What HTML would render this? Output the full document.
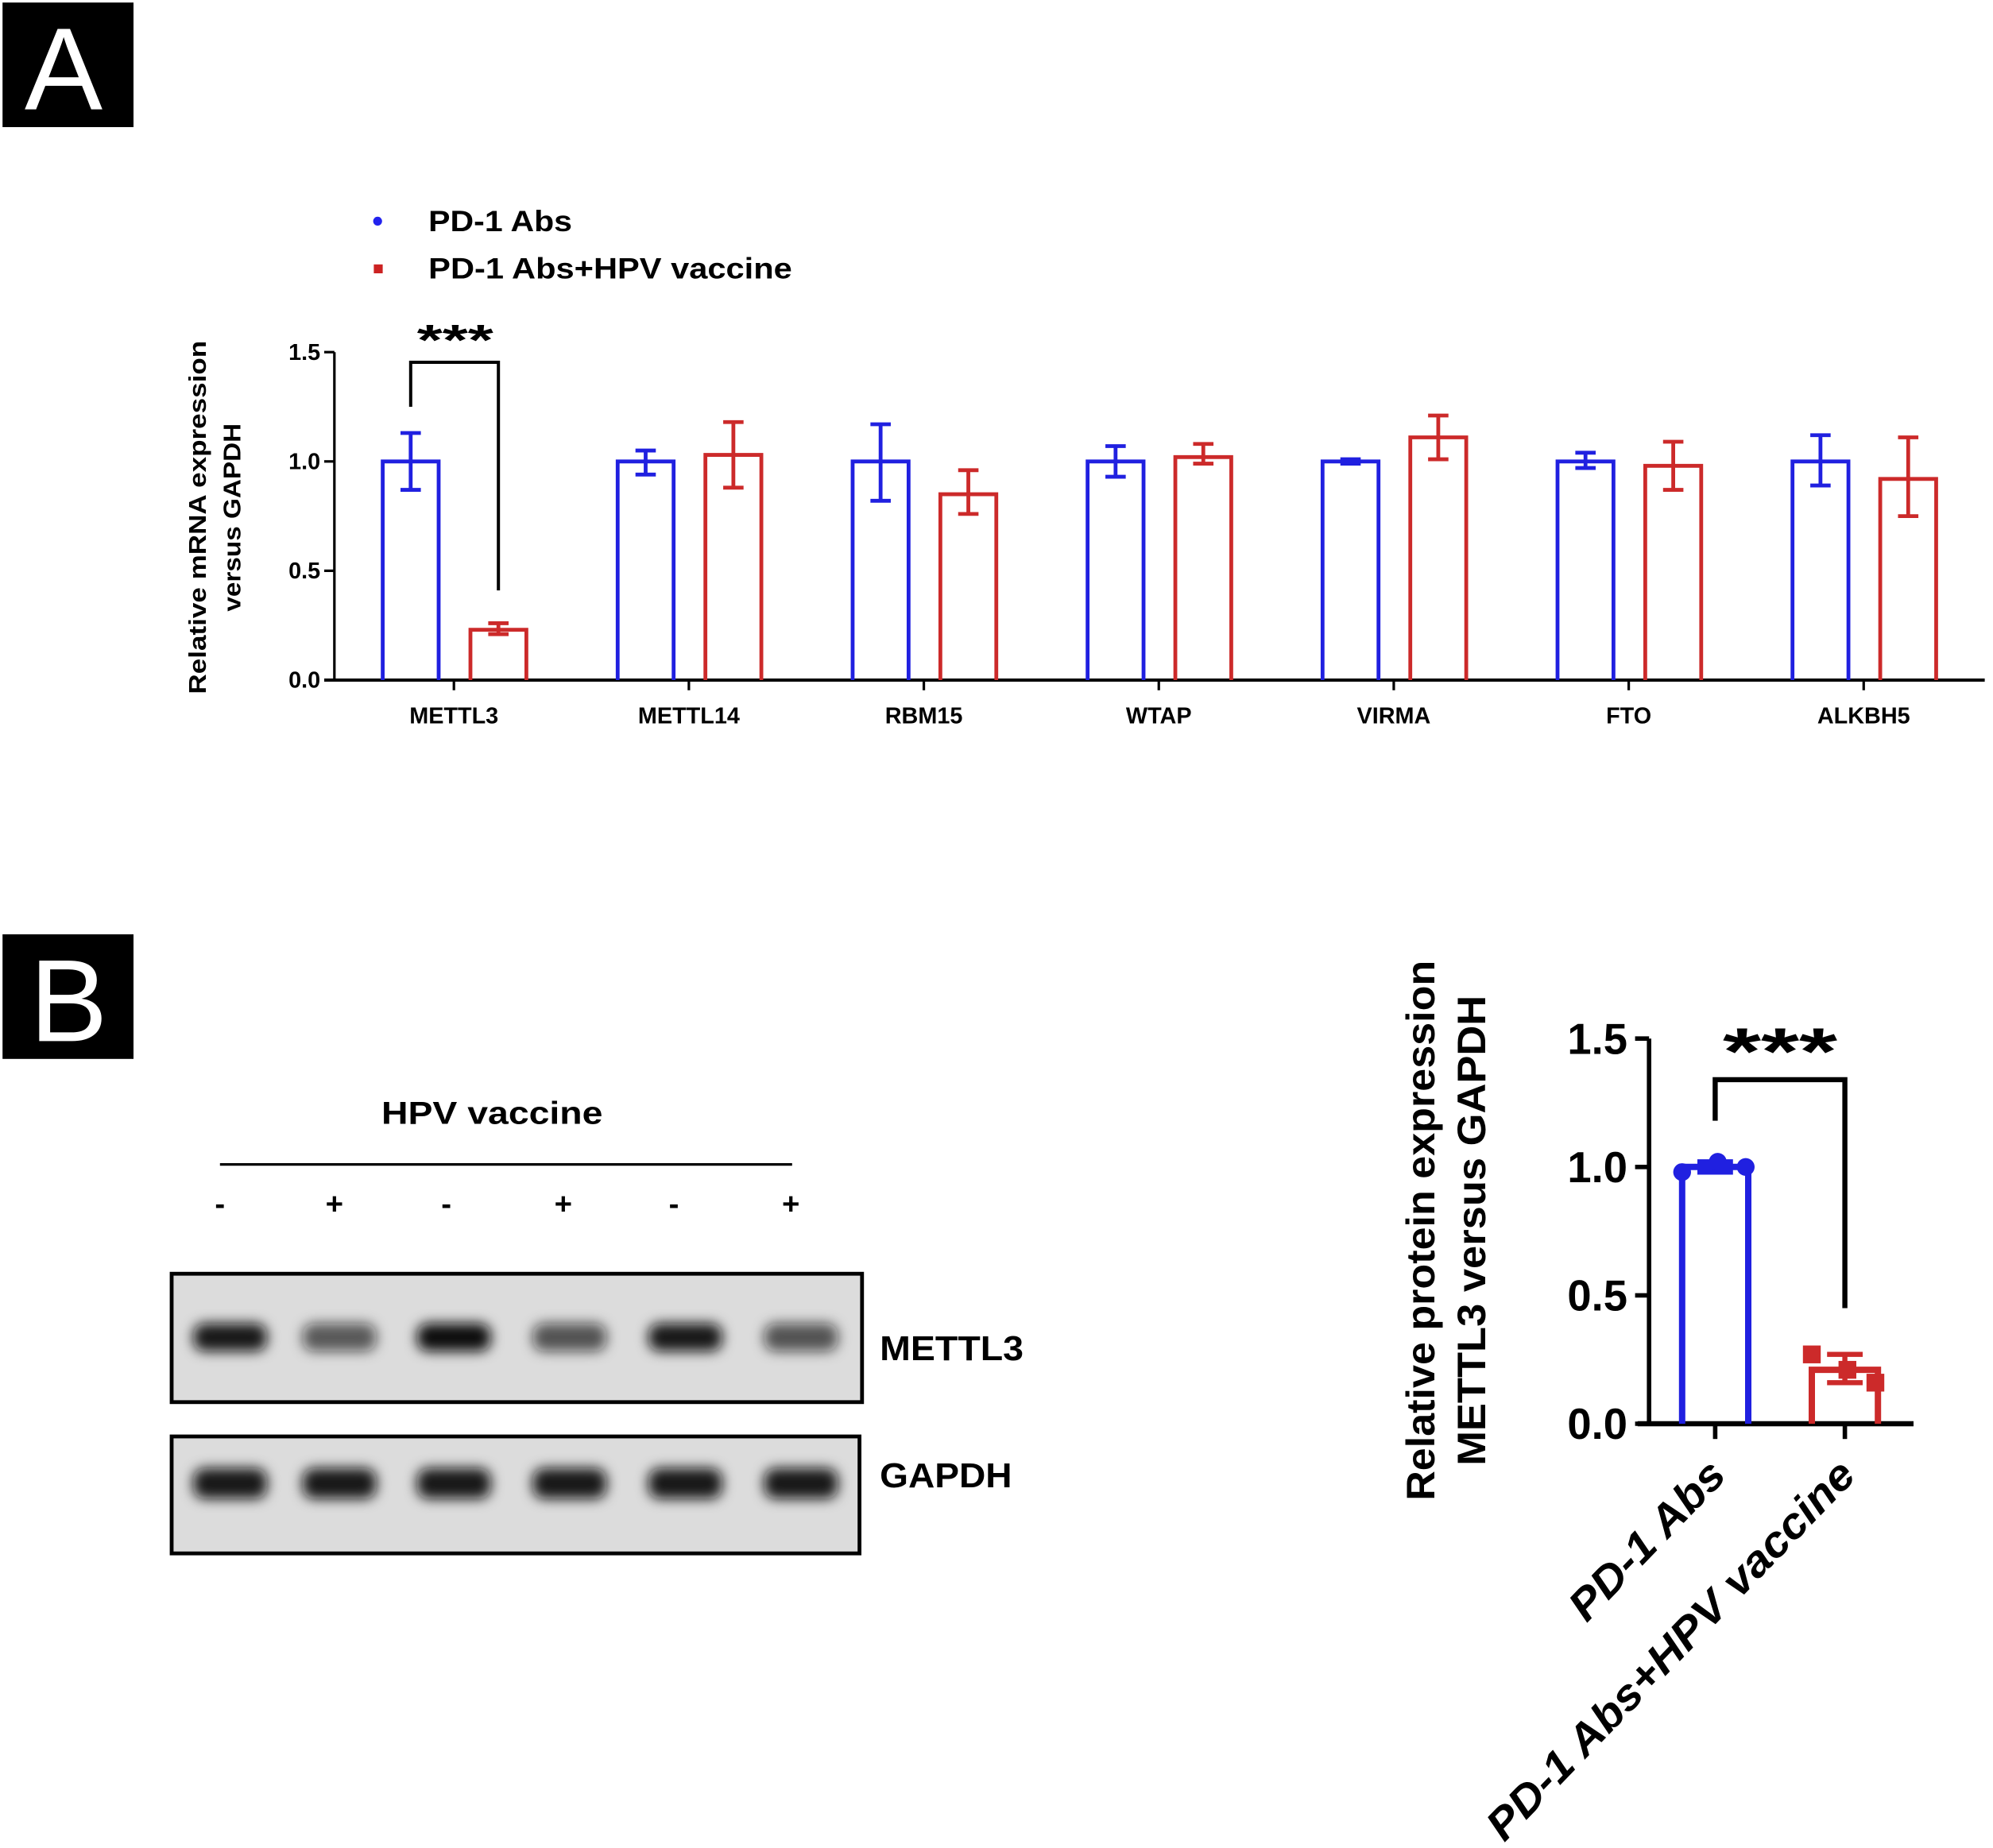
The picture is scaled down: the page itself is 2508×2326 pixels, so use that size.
<!DOCTYPE html>
<html><head><meta charset="utf-8">
<style>
html,body{margin:0;padding:0;background:#fff;}
svg{display:block;font-family:"Liberation Sans",Arial,sans-serif;font-weight:bold;}
</style></head>
<body>
<svg id="fig" width="2508" height="2326" viewBox="0 0 1567.5 1453.75" xmlns="http://www.w3.org/2000/svg">
<defs>
<filter id="blur" x="-30%" y="-80%" width="160%" height="260%"><feGaussianBlur stdDeviation="5"/></filter>
</defs>
<rect width="1567.5" height="1453.75" fill="#fff"/>
<g>
<rect x="2" y="2" width="103" height="98" fill="#000"/>
<text x="50" y="86" font-size="92" font-weight="normal" fill="#fff" text-anchor="middle">A</text>
</g>
<g>
<rect x="2" y="735" width="103" height="98" fill="#000"/>
<text x="54" y="819" font-size="92" font-weight="normal" fill="#fff" text-anchor="middle">B</text>
</g>

<g>
<g>
<circle cx="297" cy="174" r="3.5" fill="#2222ee"/>
<text x="337" y="182" font-size="23" textLength="113" lengthAdjust="spacingAndGlyphs">PD-1 Abs</text></g>
<g>
<rect x="294" y="208" width="7" height="7" fill="#cc2222"/>
<text x="337" y="219" font-size="23" textLength="286" lengthAdjust="spacingAndGlyphs">PD-1 Abs+HPV vaccine</text></g>
</g>

<g id="chartA"></g>

<g>
<text x="300" y="884" font-size="25" textLength="174" lengthAdjust="spacingAndGlyphs">HPV vaccine</text>
<line x1="173" y1="916" x2="623" y2="916" stroke="#000" stroke-width="2"/>
<g id="signs"></g>
<rect x="135" y="1002" width="543" height="101" fill="#dcdcdc" stroke="#000" stroke-width="3"/>
<rect x="135" y="1130" width="541" height="92" fill="#dcdcdc" stroke="#000" stroke-width="3"/>
<g id="bands"></g>
<text x="692" y="1070" font-size="27" textLength="113" lengthAdjust="spacingAndGlyphs">METTL3</text>
<text x="692" y="1170" font-size="27" textLength="104" lengthAdjust="spacingAndGlyphs">GAPDH</text>
</g>

<g id="chartB"></g>
</svg>
<script>
// ---- Chart A data ----
const categoriesA = ["METTL3","METTL14","RBM15","WTAP","VIRMA","FTO","ALKBH5"];
const blueMeans = [1.0,1.0,1.0,1.0,1.0,1.0,1.0];
const blueLow  = [0.87,0.94,0.82,0.93,0.99,0.97,0.89];
const blueHigh = [1.13,1.05,1.17,1.07,1.01,1.04,1.12];
const redMeans = [0.23,1.03,0.85,1.02,1.11,0.98,0.92];
const redLow   = [0.21,0.88,0.76,0.99,1.01,0.87,0.75];
const redHigh  = [0.26,1.18,0.96,1.08,1.21,1.09,1.11];
const ticksA = [0,0.5,1.0,1.5];
const tickLabelsA = ["0.0","0.5","1.0","1.5"];
// ---- Chart B data ----
const categoriesB = ["PD-1 Abs","PD-1 Abs+HPV vaccine"];
const meansB = [1.0,0.21];
const lowB = [0.98,0.16];
const highB = [1.02,0.27];
const pointsB0 = [0.98,1.02,1.0];
const pointsB1 = [0.27,0.21,0.16];
const ticksB = [0,0.5,1.0,1.5];
const tickLabelsB = ["0.0","0.5","1.0","1.5"];
// ---- Blot data ----
const laneSigns = ["-","+","-","+","-","+"];
const mettl3Intensity = [0.95,0.65,1.0,0.68,0.95,0.68];
const gapdhIntensity = [0.95,0.95,0.95,0.95,0.95,0.95];

const NS="http://www.w3.org/2000/svg";
function mk(parent,tag,attrs,text){const e=document.createElementNS(NS,tag);for(const k in attrs)e.setAttribute(k,attrs[k]);if(text!==undefined)e.textContent=text;parent.appendChild(e);return e;}
const BLUE="#2020e0", RED="#cc2a2a";

// Chart A
(function(){
  const g=document.getElementById('chartA');
  const x0=263, yBase=535, yTop=277, vmax=1.5;
  const y=v=>yBase-(yBase-yTop)*v/vmax;
  const cx=i=>357+i*184.8;
  mk(g,'line',{x1:x0,y1:yTop,x2:x0,y2:yBase,stroke:'#000','stroke-width':2});
  mk(g,'line',{x1:255,y1:yBase,x2:1561,y2:yBase,stroke:'#000','stroke-width':2.5});
  ticksA.forEach((t,i)=>{
    const tk=mk(g,'line',{x1:255,y1:y(t),x2:x0,y2:y(t),stroke:'#000','stroke-width':2});
    
    
    const lb=mk(g,'text',{x:252,y:y(t)+6,'font-size':18,'text-anchor':'end'},tickLabelsA[i]);
    
    
  });
  const yt=mk(g,'text',{transform:'translate(162,407) rotate(-90)','font-size':19,'text-anchor':'middle',textLength:278,lengthAdjust:'spacingAndGlyphs'},'Relative mRNA expression');
  
  
  const yt2=mk(g,'text',{transform:'translate(189,407) rotate(-90)','font-size':19,'text-anchor':'middle',textLength:148,lengthAdjust:'spacingAndGlyphs'},'versus GAPDH');
  
  
  function bar(xc,m,lo,hi,col,name){
    const w=44;
    const b=mk(g,'path',{d:`M${xc-w/2},${yBase} V${y(m)} H${xc+w/2} V${yBase}`,fill:'none',stroke:col,'stroke-width':3});
    
    
    const e=mk(g,'path',{d:`M${xc},${y(lo)} V${y(hi)} M${xc-8},${y(hi)} H${xc+8} M${xc-8},${y(lo)} H${xc+8}`,stroke:col,'stroke-width':3,fill:'none'});
    
    
  }
  categoriesA.forEach((c,i)=>{
    const tk=mk(g,'line',{x1:cx(i),y1:yBase,x2:cx(i),y2:yBase+8,stroke:'#000','stroke-width':2});
    
    
    bar(cx(i)-34,blueMeans[i],blueLow[i],blueHigh[i],BLUE,'bar-pd1-'+c.toLowerCase());
    bar(cx(i)+35,redMeans[i],redLow[i],redHigh[i],RED,'bar-hpv-'+c.toLowerCase());
    const lb=mk(g,'text',{x:cx(i),y:569,'font-size':18,'text-anchor':'middle'},c);
    
    
  });
  const br=mk(g,'path',{d:`M${cx(0)-34},${y(1.25)} V285 H${cx(0)+35} V${y(0.41)}`,fill:'none',stroke:'#000','stroke-width':2.5});
  
  
  const st=mk(g,'text',{x:328,y:279,'font-size':34,textLength:60,lengthAdjust:'spacingAndGlyphs'},'***');
  
  
})();

// Blot
(function(){
  const s=document.getElementById('signs');
  const b=document.getElementById('bands');
  const sx=[173,263,351,443,530,622];
  laneSigns.forEach((c,i)=>{
    const t=mk(s,'text',{x:sx[i],y:955,'font-size':24,'text-anchor':'middle'},c);
    
    
  });
  const bx=[181,267,357,448,539,630];
  mettl3Intensity.forEach((v,i)=>{
    const r=mk(b,'rect',{x:bx[i]-29,y:1041,width:58,height:22,rx:9,fill:`rgba(10,10,10,${v})`,filter:'url(#blur)'});
    
    
  });
  gapdhIntensity.forEach((v,i)=>{
    const r=mk(b,'rect',{x:bx[i]-29,y:1155,width:58,height:24,rx:9,fill:`rgba(10,10,10,${v})`,filter:'url(#blur)'});
    
    
  });
})();

// Chart B
(function(){
  const g=document.getElementById('chartB');
  const x0=1297, yBase=1120, yTop=817, vmax=1.5;
  const y=v=>yBase-(yBase-yTop)*v/vmax;
  const cx=[1349,1451];
  mk(g,'line',{x1:x0,y1:yTop,x2:x0,y2:yBase,stroke:'#000','stroke-width':3.5});
  mk(g,'line',{x1:1288,y1:yBase,x2:1505,y2:yBase,stroke:'#000','stroke-width':4});
  ticksB.forEach((t,i)=>{
    const tk=mk(g,'line',{x1:1286,y1:y(t),x2:x0,y2:y(t),stroke:'#000','stroke-width':3.5});
    
    
    const lb=mk(g,'text',{x:1280,y:y(t)+12,'font-size':34,'text-anchor':'end'},tickLabelsB[i]);
    
    
  });
  const t1=mk(g,'text',{transform:'translate(1128,968) rotate(-90)','font-size':31,'text-anchor':'middle',textLength:425,lengthAdjust:'spacingAndGlyphs'},'Relative protein expression');
  
  
  const t2=mk(g,'text',{transform:'translate(1168,968) rotate(-90)','font-size':31,'text-anchor':'middle',textLength:370,lengthAdjust:'spacingAndGlyphs'},'METTL3  versus GAPDH');
  
  
  const cols=[BLUE,RED]; const pts=[pointsB0,pointsB1];
  const labLen=[160,400];
  categoriesB.forEach((c,i)=>{
    const xc=cx[i], w=52;
    const tk=mk(g,'line',{x1:xc,y1:yBase,x2:xc,y2:yBase+12,stroke:'#000','stroke-width':3.5});
    
    
    const b=mk(g,'path',{d:`M${xc-w/2},${yBase} V${y(meansB[i])} H${xc+w/2} V${yBase}`,fill:'none',stroke:cols[i],'stroke-width':5});
    
    
    const e=mk(g,'path',{d:`M${xc},${y(lowB[i])} V${y(highB[i])} M${xc-14},${y(highB[i])} H${xc+14} M${xc-14},${y(lowB[i])} H${xc+14}`,stroke:cols[i],'stroke-width':4,fill:'none'});
    
    
    pts[i].forEach((v,j)=>{
      const px=xc-w/2+ (j===2?w:j===1?w/2+2:0) - (j===2?2:0);
      let p;
      if(i===0) p=mk(g,'circle',{cx:px,cy:y(v),r:7,fill:cols[i]});
      else p=mk(g,'rect',{x:px-7,y:y(v)-7,width:14,height:14,fill:cols[i]});
      
      
    });
    const lb=mk(g,'text',{transform:`translate(${xc+10},${yBase+42}) rotate(-46)`,'font-size':34,'text-anchor':'end','font-style':'italic',textLength:labLen[i],lengthAdjust:'spacingAndGlyphs'},c);
    
    
  });
  const br=mk(g,'path',{d:`M${cx[0]},${y(1.18)} V${y(1.34)} H${cx[1]} V${y(0.45)}`,fill:'none',stroke:'#000','stroke-width':4});
  
  
  const st=mk(g,'text',{x:1355,y:845,'font-size':52,textLength:90,lengthAdjust:'spacingAndGlyphs'},'***');
  
  
})();
</script>
</body></html>
